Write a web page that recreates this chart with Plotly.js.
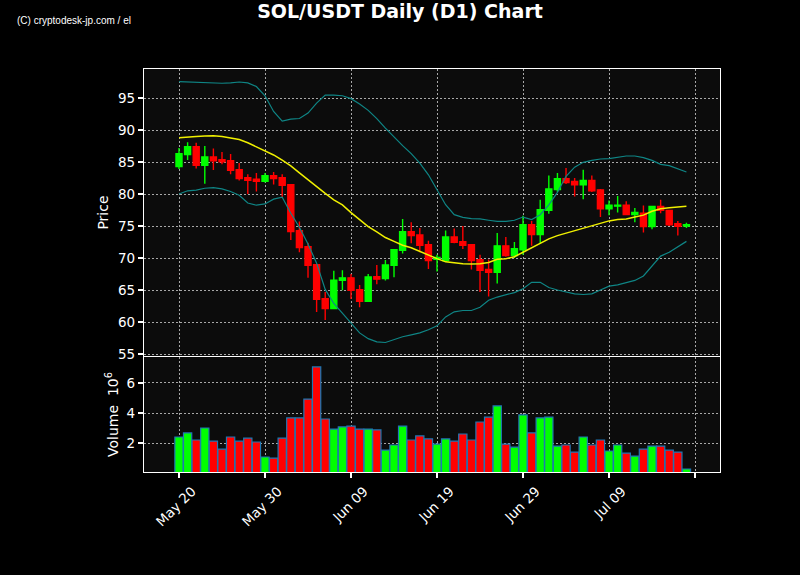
<!DOCTYPE html>
<html>
<head>
<meta charset="utf-8">
<script src="https://cdn.plot.ly/plotly-3.0.1.min.js"></script>
<style>
html,body{margin:0;padding:0;background:#000;}
#chart{width:800px;height:575px;}
</style>
</head>
<body>
<div id="chart"></div>
<script>
// ---- data ----
var startDate = '2024-05-20';
var nDays = 60;

var openP  = [84.3,86.15,87.4,84.5,85.8,85.35,85.2,83.8,82.55,82.3,82.0,82.85,82.55,81.45,74.25,71.75,68.95,63.65,62.1,66.5,66.9,65.05,63.25,67.1,66.8,68.85,71.2,74.1,73.6,72.1,69.8,69.6,73.3,72.55,72.1,69.75,68.2,67.75,71.9,70.4,71.3,75.2,73.65,77.45,80.7,82.4,81.95,81.45,82.1,80.65,77.7,78.1,78.25,76.8,77.0,74.9,78.05,77.45,75.35,75.0];
var highP  = [87.2,88.1,88.0,87.5,87.1,86.55,86.25,84.85,83.1,83.3,83.3,83.45,83.1,81.5,75.7,72.4,69.0,64.7,68.0,68.1,67.5,65.8,67.5,68.9,69.7,71.4,76.1,75.6,74.7,72.7,70.5,74.3,74.6,75.0,72.2,70.5,69.75,73.9,73.3,72.5,76.6,75.8,79.1,82.9,83.3,84.05,82.5,83.8,82.9,80.8,79.0,79.7,78.85,77.8,78.2,78.1,79.1,77.5,75.8,75.5];
var lowP   = [83.9,85.3,84.0,81.6,83.75,84.65,83.1,82.1,80.0,80.4,81.8,81.5,79.4,72.8,70.9,66.9,61.55,60.3,62.0,64.95,63.6,62.3,63.2,65.9,66.5,67.0,70.7,72.3,70.9,68.3,67.9,69.5,72.3,71.4,68.2,64.7,64.0,66.0,70.2,70.0,70.5,71.9,72.3,76.9,80.3,81.55,79.6,79.2,80.3,76.4,76.7,77.1,76.7,75.6,74.0,74.5,77.0,75.0,73.5,74.7];
var closeP = [86.3,87.4,84.5,85.8,85.2,85.05,83.7,82.4,82.15,82.0,82.85,82.4,81.35,74.15,71.65,68.85,63.55,62.1,66.55,66.9,64.95,63.25,67.05,66.7,68.9,71.3,74.1,73.5,72.0,69.6,70.1,73.3,72.45,72.0,69.6,68.1,67.75,71.9,70.4,71.45,75.2,73.65,77.55,80.8,82.4,81.8,81.45,82.1,80.5,77.7,78.25,78.25,76.8,77.1,74.9,78.05,77.45,75.2,74.95,75.2];

var volumeM = [2.4,2.67,2.2,3.0,2.13,1.6,2.4,2.13,2.33,2.07,1.07,1.0,2.33,3.67,3.67,4.93,7.07,3.6,2.93,3.07,3.13,2.93,2.93,2.87,1.53,1.87,3.13,2.2,2.47,2.27,1.93,2.27,2.13,2.6,2.2,3.4,3.73,4.47,1.93,1.73,3.87,2.67,3.67,3.73,1.8,1.87,1.4,2.4,1.87,2.2,1.47,1.87,1.33,1.13,1.6,1.8,1.8,1.53,1.4,0.27];

var bbUpper = [97.55,97.5,97.45,97.4,97.3,97.3,97.35,97.5,97.35,96.8,95.35,92.9,91.4,91.7,91.8,92.65,94.2,95.45,95.45,95.35,94.9,94.06,93.07,91.77,90.3,88.85,87.55,86.3,84.84,83.0,80.68,78.33,76.77,76.35,76.15,76.1,75.9,75.73,75.73,75.9,76.4,76.0,76.77,78.3,80.26,82.76,84.2,84.95,85.26,85.47,85.52,85.78,85.94,85.94,85.68,85.26,84.64,84.43,83.96,83.44];
var bbMiddle = [88.8,88.95,89.0,89.05,89.1,89.0,88.8,88.5,88.0,87.4,86.8,86.1,85.3,84.4,83.3,82.2,81.1,80.1,79.1,78.3,77.1,76.0,74.9,74.1,73.2,72.6,72.0,71.6,71.0,70.4,69.9,69.4,69.2,69.1,69.05,69.1,69.3,69.8,69.9,70.2,70.9,71.6,72.3,73.0,73.5,73.9,74.3,74.7,75.1,75.5,75.8,76.0,76.1,76.4,76.7,77.3,77.7,77.85,78.0,78.1];
var bbLower = [80.0,80.5,80.6,80.9,81.0,80.8,80.4,79.8,78.6,78.25,78.45,79.2,79.5,77.0,74.8,72.2,69.2,65.1,62.9,61.4,59.8,58.3,57.4,56.9,56.8,57.3,57.7,58.0,58.3,58.8,59.4,60.8,61.6,61.8,61.8,62.3,63.4,63.9,64.2,64.6,65.2,66.2,66.2,65.4,65.0,64.7,64.4,64.3,64.4,65.0,65.6,65.8,66.1,66.5,67.2,68.7,70.3,70.9,71.8,72.6];

var tickDates  = ['2024-05-20','2024-05-30','2024-06-09','2024-06-19','2024-06-29','2024-07-09','2024-07-19'];
var tickLabels = ['May 20','May 30','Jun 09','Jun 19','Jun 29','Jul 09','\u00a0'];
var priceTicks = [55,60,65,70,75,80,85,90,95];
var volTicks = [2,4,6];

// ---- build ----
var dates = [];
(function(){
  var d0 = new Date(startDate + 'T00:00:00Z');
  for (var i = 0; i < nDays; i++) {
    var d = new Date(d0.getTime() + i * 86400000);
    dates.push(d.toISOString().slice(0,10));
  }
})();

var GREEN = '#00ff00', RED = '#ff0000';
var volColors = closeP.map(function(c,i){ return c >= openP[i] ? GREEN : RED; });

var FONT = 'DejaVu Sans, Verdana, sans-serif';

var traces = [
  {type:'scatter', mode:'lines', x:dates, y:bbUpper, xaxis:'x2', yaxis:'y',
   line:{color:'#0f8585', width:1.2}, hoverinfo:'skip', showlegend:false},
  {type:'scatter', mode:'lines', x:dates, y:bbLower, xaxis:'x2', yaxis:'y',
   line:{color:'#0f8585', width:1.2}, hoverinfo:'skip', showlegend:false},
  {type:'scatter', mode:'lines', x:dates, y:bbMiddle, xaxis:'x2', yaxis:'y',
   line:{color:'#f0f000', width:1.5}, hoverinfo:'skip', showlegend:false},
  {type:'candlestick', x:dates, open:openP, high:highP, low:lowP, close:closeP,
   xaxis:'x2', yaxis:'y', whiskerwidth:0,
   increasing:{line:{color:GREEN, width:1.4}, fillcolor:GREEN},
   decreasing:{line:{color:RED, width:1.4}, fillcolor:RED},
   showlegend:false},
  {type:'bar', x:dates, y:volumeM, xaxis:'x', yaxis:'y2', width:0.96*86400000,
   marker:{color:volColors, line:{color:'#1f77b4', width:1.2}}, showlegend:false}
];

var xr = ['2024-05-15 22:20','2024-07-21 21:40'];
var gridStyle = {showgrid:true, gridcolor:'#a8a8a8', griddash:'1.5px,2.5px', gridwidth:1};

var layout = {
  width:800, height:575,
  paper_bgcolor:'#000000', plot_bgcolor:'#0c0c0c',
  margin:{l:144, r:80, t:69, b:103},
  font:{family:FONT, color:'#ffffff', size:13},
  showlegend:false,
  boxgap:0.3, boxgroupgap:0,
  title:{text:'<b>SOL/USDT Daily (D1) Chart</b>', x:0.5, xanchor:'center',
         y:1-11/575, yanchor:'middle', yref:'container',
         font:{family:FONT, size:19, color:'#ffffff'}},
  xaxis:Object.assign({type:'date', range:xr, domain:[0,1], anchor:'y2',
    tickmode:'array', tickvals:tickDates, ticktext:tickLabels, tickangle:-45,
    ticklabelshift:13,
    ticks:'outside', ticklen:5, tickcolor:'#ffffff', tickwidth:1.2,
    tickfont:{family:FONT, size:13.5, color:'#ffffff'},
    showline:true, linecolor:'#ffffff', linewidth:1.2, mirror:true, zeroline:false,
    rangeslider:{visible:false}}, gridStyle),
  xaxis2:Object.assign({type:'date', range:xr, domain:[0,1], anchor:'y', matches:'x',
    tickmode:'array', tickvals:tickDates, showticklabels:false, ticks:'',
    showline:true, linecolor:'#ffffff', linewidth:1.2, mirror:true, zeroline:false,
    rangeslider:{visible:false}}, gridStyle),
  yaxis:Object.assign({domain:[0.2878,1], range:[54.69,99.53],
    tickmode:'array', tickvals:priceTicks,
    ticks:'outside', ticklen:5, tickcolor:'#ffffff', tickwidth:1.2,
    tickfont:{family:FONT, size:13.5, color:'#ffffff'},
    showline:true, linecolor:'#ffffff', linewidth:1.2, mirror:true, zeroline:false,
    title:{text:'Price', font:{family:FONT, size:14, color:'#ffffff'}, standoff:6}}, gridStyle),
  yaxis2:Object.assign({domain:[0,0.2853], range:[0.07,7.73],
    tickmode:'array', tickvals:volTicks,
    ticks:'outside', ticklen:5, tickcolor:'#ffffff', tickwidth:1.2,
    tickfont:{family:FONT, size:13.5, color:'#ffffff'},
    showline:true, linecolor:'#ffffff', linewidth:1.2, mirror:true, zeroline:false,
    title:{text:'Volume  10<sup>6</sup>', font:{family:FONT, size:14, color:'#ffffff'}, standoff:4}}, gridStyle),
  annotations:[
    {text:'(C) cryptodesk-jp.com / el', xref:'paper', yref:'paper',
     x:(15-144)/576, y:(472-21)/403, xanchor:'left', yanchor:'middle', showarrow:false,
     font:{family:'Liberation Sans Narrow, Liberation Sans, Arial, sans-serif', size:10, color:'#ffffff'}}
  ]
};

Plotly.newPlot('chart', traces, layout, {staticPlot:true, displayModeBar:false});
</script>
</body>
</html>
